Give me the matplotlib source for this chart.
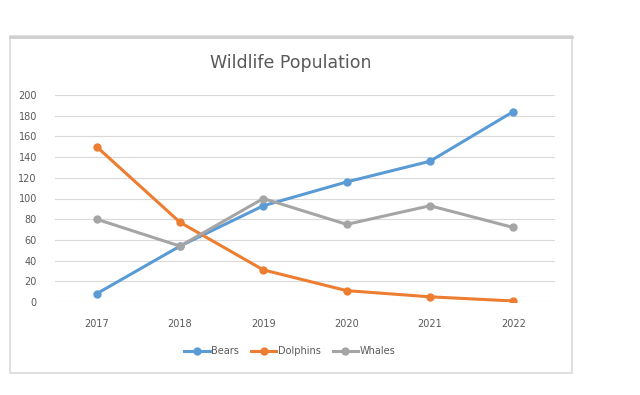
import matplotlib
matplotlib.use("Agg")
import matplotlib.pyplot as plt
from matplotlib.patches import Rectangle

years = ["2017", "2018", "2019", "2020", "2021", "2022"]
bears = [8, 54, 93, 116, 136, 184]
dolphins = [150, 77, 31, 11, 5, 1]
whales = [80, 54, 100, 75, 93, 72]
y_ticks = [0, 20, 40, 60, 80, 100, 120, 140, 160, 180, 200]

W, H = 640, 395
fig = plt.figure(figsize=(W / 100, H / 100), dpi=100)
fig.patch.set_facecolor("white")

# chart frame
frame = Rectangle((10 / W, 1 - 373 / H), 562 / W, 337 / H, transform=fig.transFigure,
                  facecolor="white", edgecolor="#d9d9d9", linewidth=1.2, zorder=0)
fig.add_artist(frame)
fig.add_artist(plt.Line2D([10 / W, 572 / W], [1 - 37 / H, 1 - 37 / H], transform=fig.transFigure,
                          color="#cfcfcf", linewidth=2.0))

ax = fig.add_axes([55 / W, 1 - 302 / H, 500 / W, 207 / H])
ax.set_facecolor("none")
x = list(range(len(years)))
ax.plot(x, bears, color="#5B9BD5", lw=2.2, marker="o", ms=5, label="Bears", zorder=3)
ax.plot(x, dolphins, color="#ED7D31", lw=2.2, marker="o", ms=5, label="Dolphins", zorder=3)
ax.plot(x, whales, color="#A5A5A5", lw=2.2, marker="o", ms=5, label="Whales", zorder=3)

ax.set_xlim(-0.5, len(years) - 0.5)
ax.set_ylim(0, 200)
ax.set_yticks(y_ticks)
ax.set_yticklabels([str(v) for v in y_ticks])
ax.set_xticks(x)
ax.set_xticklabels(years)
ax.grid(axis="y", color="#d9d9d9", linewidth=0.8)
ax.set_axisbelow(True)
for s in ax.spines.values():
    s.set_visible(False)
ax.tick_params(axis="both", length=0, labelsize=7, colors="#595959")
ax.tick_params(axis="y", pad=13)
ax.tick_params(axis="x", pad=12)

fig.text(291 / W, 1 - 63 / H, "Wildlife Population", ha="center", va="center",
         fontsize=12.5, color="#595959")

leg = fig.legend(loc="center", bbox_to_anchor=(290 / W, 1 - 351 / H), ncol=3, frameon=False,
                 fontsize=7, handlelength=2.6, columnspacing=1.2, handletextpad=0.2,
                 labelcolor="#595959")

fig.savefig("out.png", dpi=100, facecolor="white")
